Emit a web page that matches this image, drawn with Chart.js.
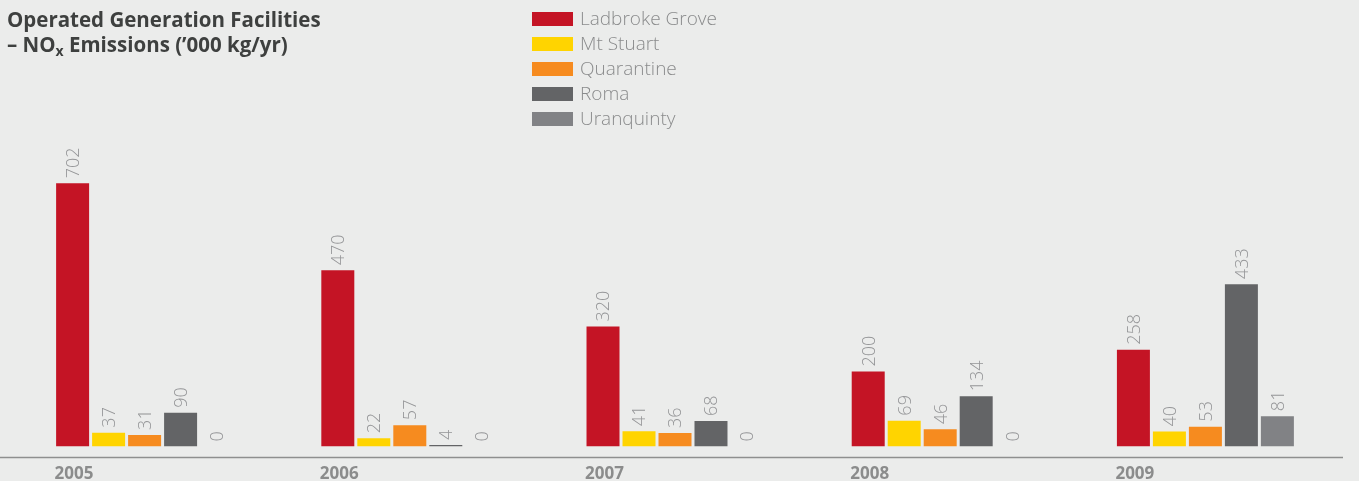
<!DOCTYPE html>
<html>
<head>
<meta charset="utf-8">
<script src="https://cdn.jsdelivr.net/npm/chart.js@4.4.0/dist/chart.umd.min.js"></script>
<style>
  html, body { margin: 0; padding: 0; background: #ebeceb; }
  #wrap { position: relative; width: 1359px; height: 481px; overflow: hidden; }
  #title {
    position: absolute; left: 7px; top: 7px;
    font: bold 20.5px "Open Sans", sans-serif; line-height: 25px; color: #3e403f;
    white-space: nowrap;
  }
  #title .sub { font-size: 14px; vertical-align: -4px; line-height: 0; }
  #legend { position: absolute; left: 532px; top: 6px; }
  #legend .row { display: flex; align-items: flex-start; height: 25px; }
  #legend .box { width: 41px; height: 14px; margin-top: 6px; margin-right: 7px; }
  #legend .txt { font: 300 19px "Open Sans", sans-serif; line-height: 25px; color: #8a8b8c; white-space: nowrap; }
  canvas { position: absolute; left: 0; top: 0; }
</style>
</head>
<body>
<div id="wrap">
  <canvas id="myChart" width="1359" height="481"></canvas>
  <div id="title">Operated Generation Facilities<br>– NO<span class="sub">x</span> Emissions (’000 kg/yr)</div>
  <div id="legend"></div>
</div>
<script>
// NOx emissions per facility, '000 kg/yr
const years = ['2005', '2006', '2007', '2008', '2009'];
const ladbrokeGrove = [702, 470, 320, 200, 258];
const mtStuart = [37, 22, 41, 69, 40];
const quarantine = [31, 57, 36, 46, 53];
const roma = [90, 4, 68, 134, 433];
const uranquinty = [0, 0, 0, 0, 81];

const seriesNames = ['Ladbroke Grove', 'Mt Stuart', 'Quarantine', 'Roma', 'Uranquinty'];
const seriesColors = ['#c41425', '#ffd400', '#f68b1f', '#636466', '#818285'];
const seriesData = [ladbrokeGrove, mtStuart, quarantine, roma, uranquinty];

const catPct = 0.6786;

// rotated value above each bar
const valueLabels = {
  id: 'valueLabels',
  afterDatasetsDraw(chart) {
    const ctx = chart.ctx;
    const size = 18;
    ctx.save();
    ctx.font = '300 ' + size + 'px "Open Sans", sans-serif';
    ctx.fillStyle = '#949597';
    ctx.textAlign = 'left';
    ctx.textBaseline = 'alphabetic';
    chart.data.datasets.forEach((ds, i) => {
      chart.getDatasetMeta(i).data.forEach((bar, j) => {
        ctx.save();
        ctx.translate(bar.x, bar.y - 5);
        ctx.rotate(-Math.PI / 2);
        ctx.fillText(String(ds.data[j]), 0, size * 0.36);
        ctx.restore();
      });
    });
    ctx.restore();
  }
};

// baseline rule and year labels, left-aligned with each group
const baseAxis = {
  id: 'baseAxis',
  afterDraw(chart) {
    const ctx = chart.ctx;
    const area = chart.chartArea;
    const xs = chart.scales.x;
    const y = area.bottom + 11;
    ctx.save();
    ctx.strokeStyle = '#8e8f8f';
    ctx.lineWidth = 1.6;
    ctx.beginPath();
    ctx.moveTo(0, y);
    ctx.lineTo(area.right + 5, y);
    ctx.stroke();

    const groupW = xs.width / chart.data.labels.length * catPct;
    ctx.fillStyle = '#8b8c8c';
    ctx.font = 'bold 17px "Open Sans", sans-serif';
    ctx.textAlign = 'left';
    ctx.textBaseline = 'alphabetic';
    chart.data.labels.forEach((lab, i) => {
      ctx.fillText(lab, xs.getPixelForTick(i) - groupW / 2, area.bottom + 32);
    });
    ctx.restore();
  }
};

const ctx = document.getElementById('myChart').getContext('2d');
const myChart = new Chart(ctx, {
  type: 'bar',
  data: {
    labels: years,
    datasets: seriesData.map((d, i) => ({
      label: seriesNames[i],
      data: d,
      backgroundColor: seriesColors[i],
      borderWidth: 0,
      barPercentage: 0.9167,
      categoryPercentage: catPct
    }))
  },
  options: {
    responsive: false,
    animation: false,
    layout: { padding: { left: 12, right: 21, top: 26.5, bottom: 34.5 } },
    plugins: {
      legend: { display: false },
      tooltip: { enabled: false }
    },
    scales: {
      x: {
        grid: { display: false, drawTicks: false },
        border: { display: false },
        ticks: { display: false }
      },
      y: { display: false, min: 0, max: 1120 }
    }
  },
  plugins: [valueLabels, baseAxis]
});

// legend list built from the chart's datasets
const legendEl = document.getElementById('legend');
myChart.data.datasets.forEach(ds => {
  const row = document.createElement('div');
  row.className = 'row';
  const box = document.createElement('div');
  box.className = 'box';
  box.style.background = ds.backgroundColor;
  const txt = document.createElement('div');
  txt.className = 'txt';
  txt.textContent = ds.label;
  row.appendChild(box);
  row.appendChild(txt);
  legendEl.appendChild(row);
});
</script>
</body>
</html>
